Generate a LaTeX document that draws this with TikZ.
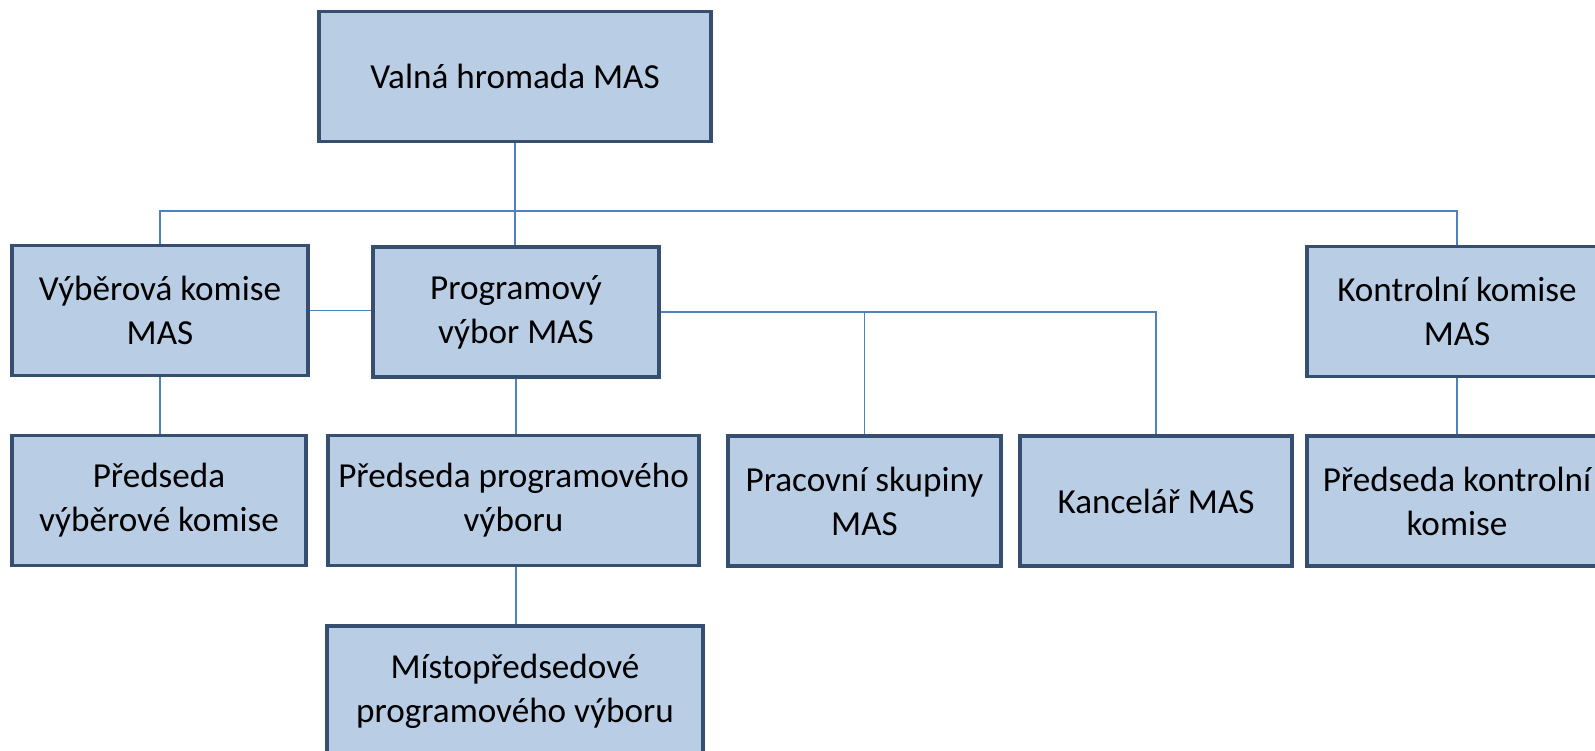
\documentclass[tikz,border=0pt]{standalone}
\usepackage{fontspec}
\setmainfont{Carlito}
\definecolor{boxfill}{HTML}{B9CDE5}
\definecolor{boxline}{HTML}{364F70}
\definecolor{linkline}{HTML}{4F81BD}
\tikzset{
  box/.style={draw=boxline, fill=boxfill, line width=2pt, align=center,
    minimum height=2.6cm, inner sep=2pt, font=\fontsize{20}{25}\selectfont},
  conn/.style={draw=linkline, line width=0.8pt}
}
\begin{document}
\begin{tikzpicture}
\useasboundingbox (0,0) rectangle (31.9,-15.02);
% top level
\node[box, minimum width=7.84cm] (valna) at (10.3,-1.53) {Valná hromada MAS};

% second row
\node[box, minimum width=5.92cm] (vyber) at (3.2,-6.21) {Výběrová komise\\MAS};
\node[box, minimum width=5.72cm] (prog) at (10.32,-6.24) {Programový\\výbor MAS};
\node[box, minimum width=6cm] (kontr) at (29.14,-6.23) {Kontrolní komise\\MAS};

% third row
\node[box, minimum width=5.88cm] (predv) at (3.18,-10.01) {Předseda\\výběrové komise};
\node[box, minimum width=7.42cm] (predp) at (10.27,-10.01) {Předseda programového\\výboru};
\node[box, minimum width=5.46cm] (prac) at (17.29,-10.02) {Pracovní skupiny\\MAS};
\node[box, minimum width=5.44cm] (kanc) at (23.12,-10.02) {Kancelář MAS};
\node[box, minimum width=6cm] (predk) at (29.14,-10.02) {Předseda kontrolní\\komise};

% fourth row
\node[box, minimum width=7.52cm] (misto) at (10.3,-13.82) {Místopředsedové\\programového výboru};

% connectors
\coordinate (bus) at (0,-4.22);
\draw[conn] (valna.south) -- (valna.south |- prog.north);
\draw[conn] (vyber.north) -- (vyber.north |- bus) -- (kontr.north |- bus) -- (kontr.north);
\draw[conn] (vyber.east) -- (vyber.east -| prog.west);
\draw[conn] (prog.east) -| (kanc.north);
\draw[conn] (prac.north) -- (prac.north |- prog.east);
\draw[conn] (vyber.south) -- (vyber.south |- predv.north);
\draw[conn] (prog.south) -- (prog.south |- predp.north);
\draw[conn] (prog.south |- predp.south) -- (prog.south |- misto.north);
\draw[conn] (kontr.south) -- (predk.north);
\end{tikzpicture}
\end{document}
